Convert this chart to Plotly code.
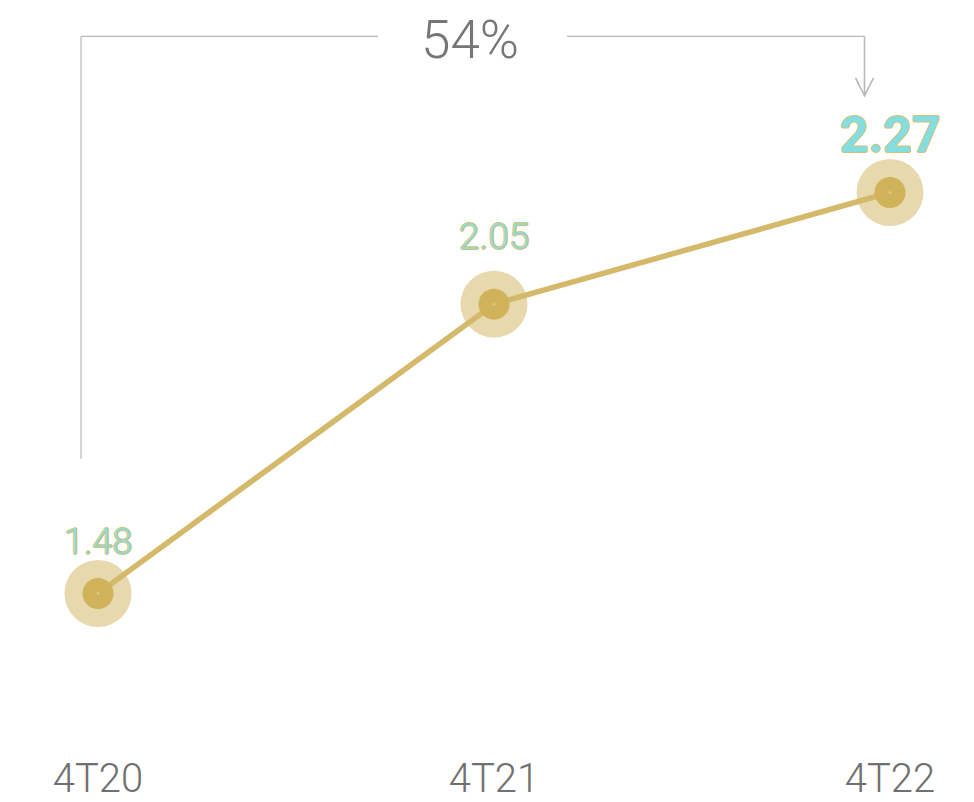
import plotly.graph_objects as go

# ---- data ----
categories = ["4T20", "4T21", "4T22"]
values = [1.48, 2.05, 2.27]
value_labels = ["1.48", "2.05", "2.27"]
growth_label = "54%"

# ---- layout geometry (pixels, page coordinates minus body offset) ----
OFF = 8  # default page body margin
W, H = 974 - OFF, 802 - OFF
MB = 49
PH = H - MB
B = 508.9
A = 1348.2 - OFF
y_top = A / B
y_bot = (A - PH) / B
x0px, step = 98 - OFF, 396
x_lo = -x0px / step
x_hi = (W - x0px) / step

def vx(px):
    return (px - OFF - x0px) / step

def vy(py):
    return (A - (py - OFF)) / B

line_col = "#d4b96a"
halo_col = "#e8d8ae"
inner_col = "#cfb25a"
gray = "#707070"
bracket_col = "#b8b8b8"

xs = list(range(len(categories)))
fig = go.Figure()

fig.add_trace(go.Scatter(x=xs, y=values, mode="markers",
                         marker=dict(size=67, color=halo_col, line=dict(width=0)),
                         hoverinfo="skip", showlegend=False))
fig.add_trace(go.Scatter(x=xs, y=values, mode="lines",
                         line=dict(color=line_col, width=5.5),
                         hoverinfo="skip", showlegend=False))
fig.add_trace(go.Scatter(x=xs, y=values, mode="markers",
                         marker=dict(size=31, color=inner_col, line=dict(width=0)),
                         hoverinfo="skip", showlegend=False))
fig.add_trace(go.Scatter(x=xs, y=values, mode="markers",
                         marker=dict(size=3, color="#dcc582", line=dict(width=0)),
                         hoverinfo="skip", showlegend=False))

outline = "#d6be72"
shadow = f"1px 0 0 {outline}, -1px 0 0 {outline}, 0 1px 0 {outline}, 0 -1px 0 {outline}"
label_shift = [51, 68, 58]
label_size = [36, 37, 50]
label_weight = [300, 300, 700]
label_fill = ["#8fdcd6", "#8fdcd6", "#84dee0"]
for i, (v, t) in enumerate(zip(values, value_labels)):
    fig.add_annotation(x=i, y=v, text=t, showarrow=False, xanchor="center", yanchor="middle",
                       yshift=label_shift[i],
                       font=dict(family="Roboto", size=label_size[i], weight=label_weight[i],
                                 color=label_fill[i], shadow=shadow))

lw = 1.2
fig.add_shape(type="line", x0=vx(81), x1=vx(81), y0=vy(460), y1=vy(36.5),
              line=dict(color=bracket_col, width=lw))
fig.add_shape(type="line", x0=vx(81), x1=vx(378), y0=vy(36.5), y1=vy(36.5),
              line=dict(color=bracket_col, width=lw))
fig.add_shape(type="line", x0=vx(567), x1=vx(864.5), y0=vy(36.5), y1=vy(36.5),
              line=dict(color=bracket_col, width=lw))
fig.add_shape(type="line", x0=vx(864.5), x1=vx(864.5), y0=vy(36.5), y1=vy(96),
              line=dict(color=bracket_col, width=1.6))
fig.add_shape(type="path",
              path=f"M {vx(855.5)},{vy(78)} L {vx(864.5)},{vy(96)} L {vx(873.5)},{vy(78)}",
              line=dict(color=bracket_col, width=1.6))
fig.add_annotation(x=vx(470), y=1, yref="paper", text=growth_label, showarrow=False,
                   xanchor="center", yanchor="top", borderpad=0,
                   font=dict(family="Roboto", size=53, weight=300, color="#767676"))

fig.update_layout(
    width=W, height=H,
    margin=dict(l=0, r=0, t=0, b=MB),
    paper_bgcolor="white", plot_bgcolor="white",
    showlegend=False,
    xaxis=dict(range=[x_lo, x_hi], tickvals=xs, ticktext=categories,
               showgrid=False, zeroline=False, showline=False, ticks="",
               tickfont=dict(family="Roboto", size=40, weight=300, color=gray), fixedrange=True),
    yaxis=dict(range=[y_bot, y_top], showgrid=False, zeroline=False, showline=False,
               showticklabels=False, ticks="", fixedrange=True),
)

fig.write_html("out.html")
